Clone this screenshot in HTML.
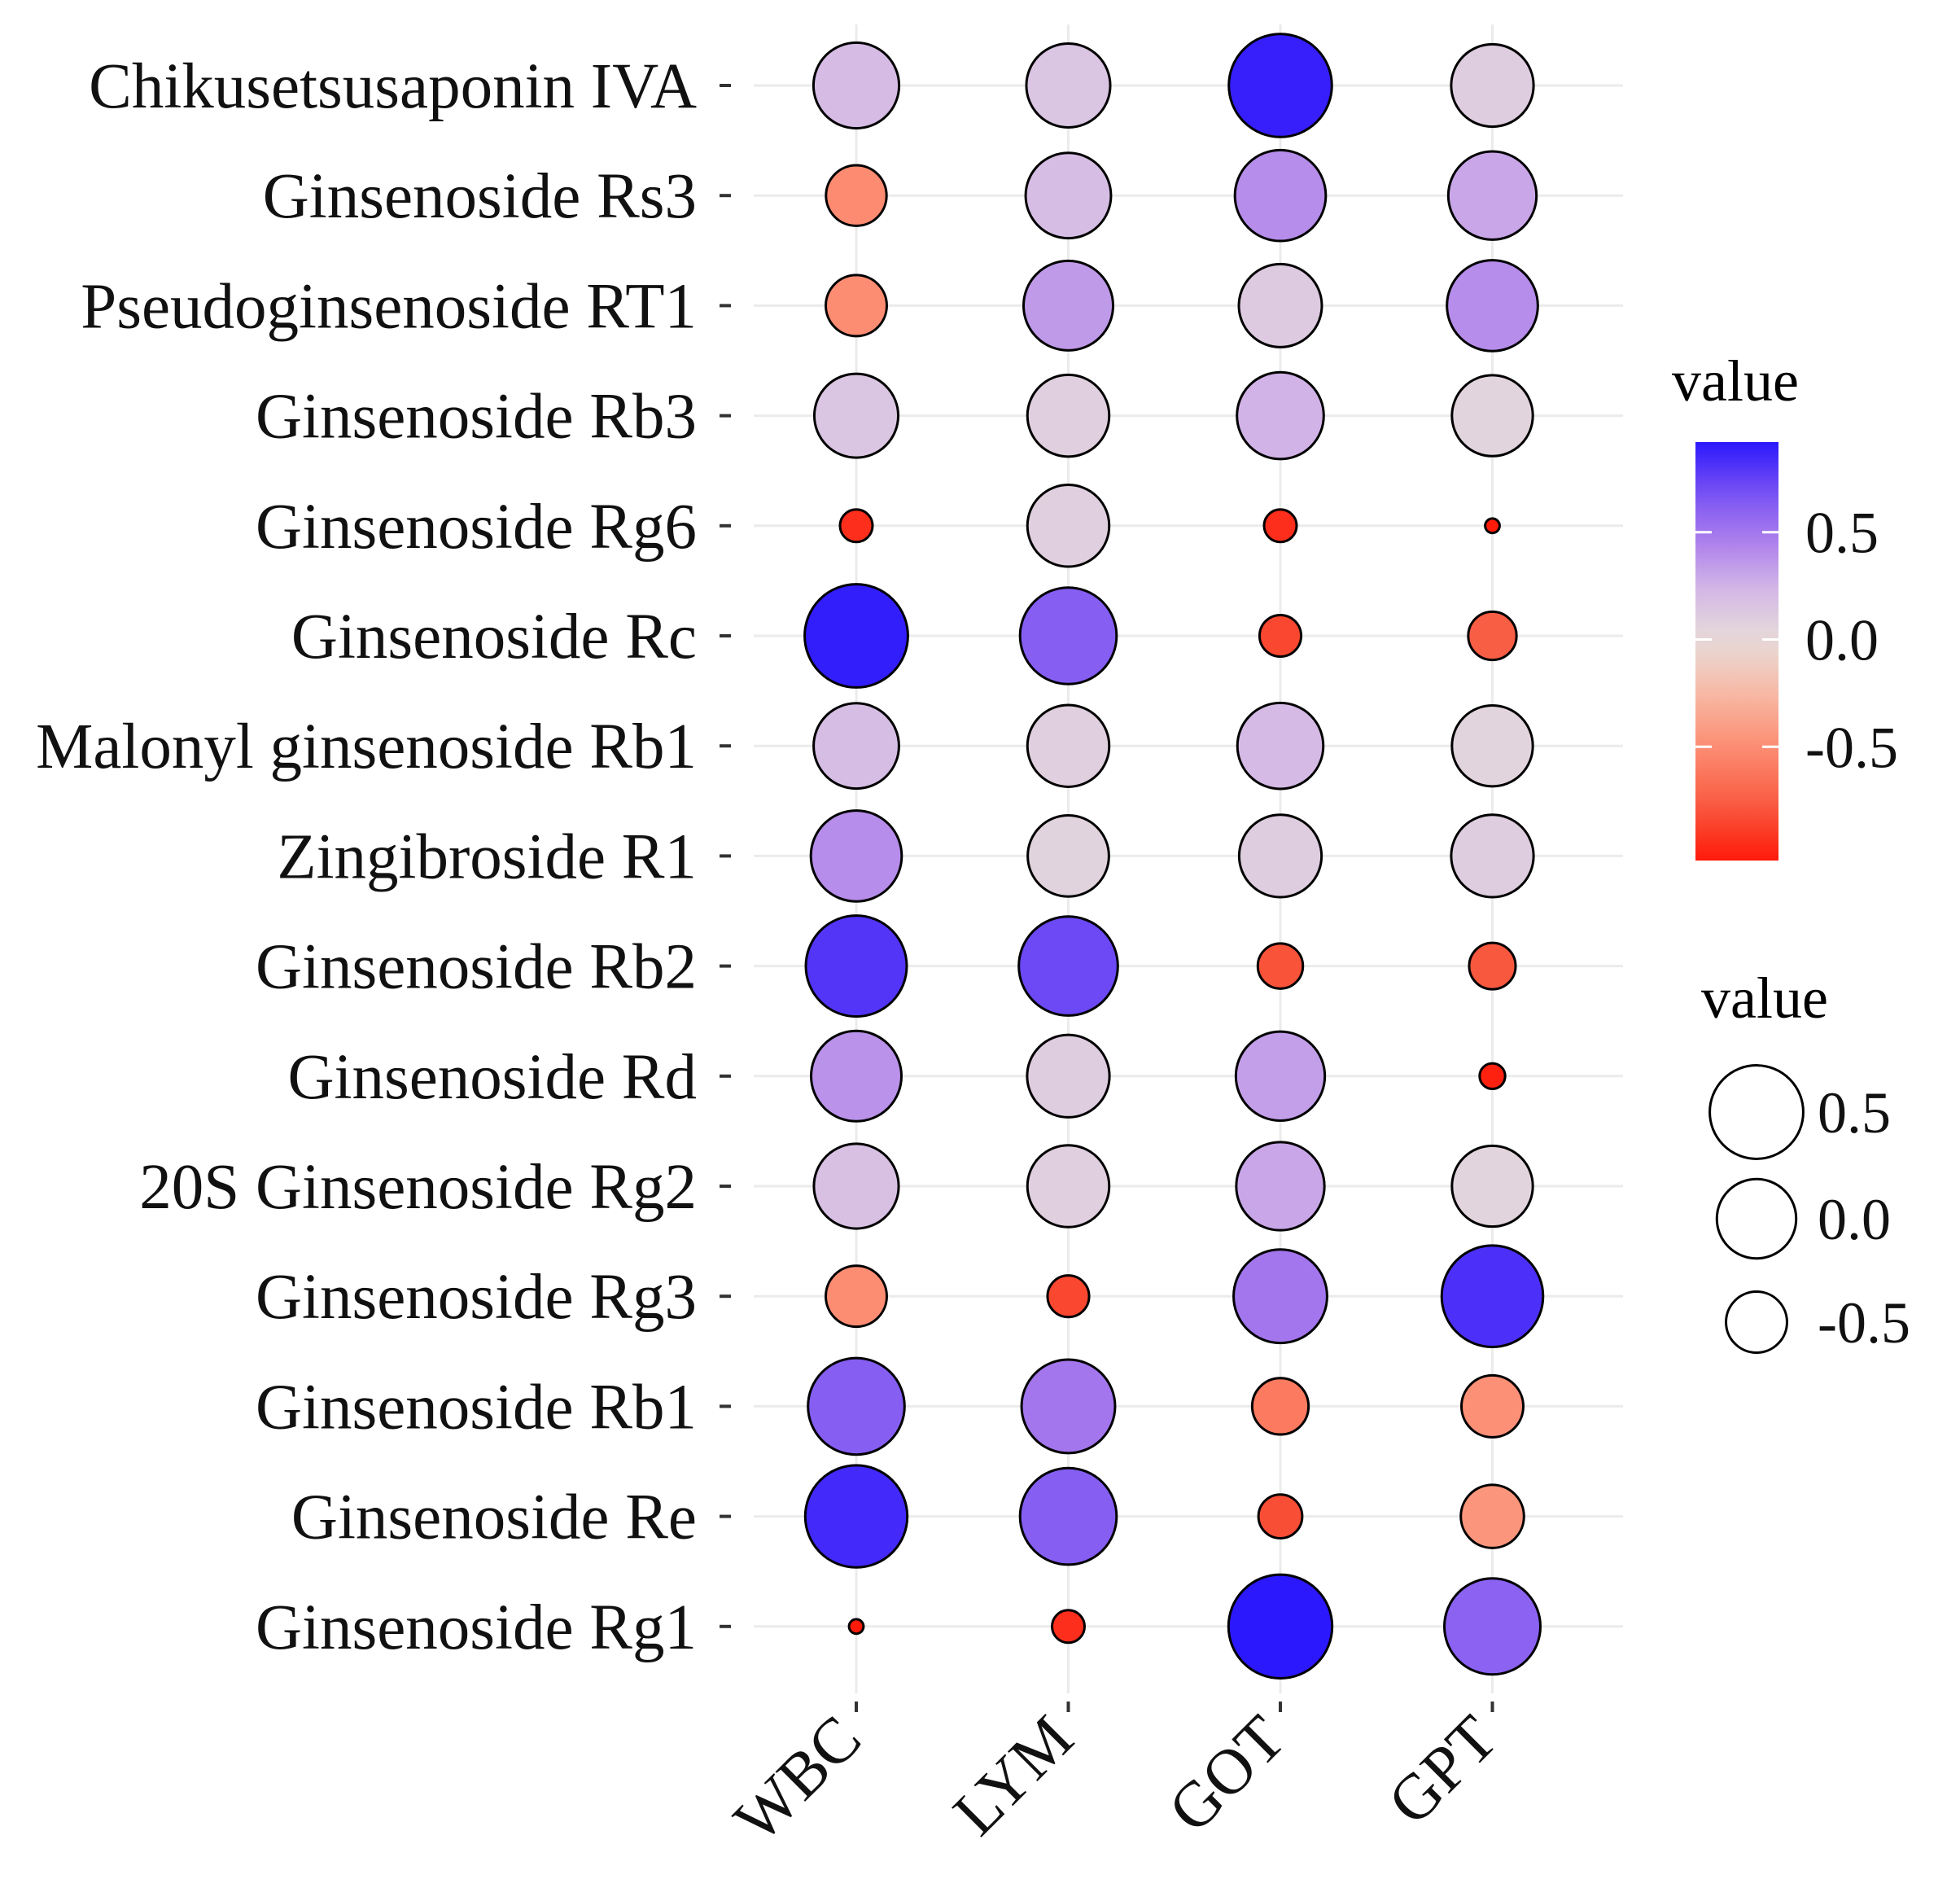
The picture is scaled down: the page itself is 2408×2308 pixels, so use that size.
<!DOCTYPE html>
<html><head><meta charset="utf-8"><style>
html,body{margin:0;padding:0;background:#fff}
svg{display:block;font-family:"Liberation Serif",serif}
</style></head><body>
<svg id="chart" width="2408" height="2308" viewBox="0 0 2408 2308" xmlns="http://www.w3.org/2000/svg">
<g id="grid"></g>
<g id="yaxis"></g>
<g id="xaxis"></g>
<g id="marks"></g>
<defs><linearGradient id="cbg" x1="0" y1="0" x2="0" y2="1"></linearGradient></defs>
<g id="legend">
<text x="2054" y="492" font-size="72">value</text>
<rect x="2083" y="543" width="102" height="514" fill="url(#cbg)"/>
<text x="2090" y="1250" font-size="72">value</text>
</g>
</svg>
<script>
const rows = ["Chikusetsusaponin IVA","Ginsenoside Rs3","Pseudoginsenoside RT1","Ginsenoside Rb3","Ginsenoside Rg6","Ginsenoside Rc","Malonyl ginsenoside Rb1","Zingibroside R1","Ginsenoside Rb2","Ginsenoside Rd","20S Ginsenoside Rg2","Ginsenoside Rg3","Ginsenoside Rb1","Ginsenoside Re","Ginsenoside Rg1"];
const cols = ["WBC","LYM","GOT","GPT"];
const valWBC = [0.21,-0.51,-0.5,0.15,-0.95,0.9,0.2,0.4,0.8,0.38,0.18,-0.5,0.62,0.85,-1.03];
const valLYM = [0.15,0.2,0.35,0.08,0.08,0.62,0.08,0.06,0.72,0.1,0.08,-0.85,0.5,0.62,-0.95];
const valGOT = [0.89,0.4,0.12,0.25,-0.95,-0.85,0.22,0.1,-0.8,0.33,0.3,0.5,-0.6,-0.82,0.92];
const valGPT = [0.1,0.3,0.4,0.05,-1.03,-0.75,0.05,0.1,-0.78,-1.0,0.05,0.82,-0.48,-0.45,0.6];
const legendTicks = [0.5,0.0,-0.5];
const tickLabels = ["0.5","0.0","-0.5"];

const NS="http://www.w3.org/2000/svg";
const vmin=-1.03, vmax=0.92;
const x0=1052, dx=260.5, y0=105, dy=135.2;
const xPos=i=>x0+i*dx, yPos=j=>y0+j*dy;
const rad=v=>10.4+54.8*Math.sqrt(Math.max(0,(v-vmin)/(vmax-vmin)));
const cbY=v=>543+(vmax-v)/(vmax-vmin)*514;
const blueStops=[[230,220,218],[212,184,230],[172,126,236],[118,80,244],[44,24,252]];
const redStops=[[230,220,218],[248,184,164],[252,138,112],[248,90,64],[255,26,10]];
function interp(st,t){t=Math.max(0,Math.min(1,t));const s=t*(st.length-1),i=Math.min(st.length-2,Math.floor(s)),f=s-i;
 return "rgb("+st[i].map((c,k)=>Math.round(c+(st[i+1][k]-c)*f)).join(",")+")";}
const col=v=>v>=0?interp(blueStops,v/vmax):interp(redStops,-v/(-vmin));
function mk(tag,attrs,parent,txt){const e=document.createElementNS(NS,tag);for(const k in attrs)e.setAttribute(k,attrs[k]);if(txt!==undefined)e.textContent=txt;parent.appendChild(e);return e;}
const grid=document.getElementById('grid'),ya=document.getElementById('yaxis'),xa=document.getElementById('xaxis'),marks=document.getElementById('marks'),leg=document.getElementById('legend');
rows.forEach((r,j)=>{const y=yPos(j);
 const l=mk('line',{x1:926,x2:1994,y1:y,y2:y,stroke:'#EBEBEB','stroke-width':3},grid);
 
 
 const t=mk('line',{x1:884,x2:898,y1:y,y2:y,stroke:'#333','stroke-width':4},ya);
 
 
 const tx=mk('text',{x:856,y:y+27,'font-size':79,'text-anchor':'end',fill:'#111'},ya,r);
 
 
});
cols.forEach((c,i)=>{const x=xPos(i);
 const l=mk('line',{x1:x,x2:x,y1:30,y2:2080,stroke:'#EBEBEB','stroke-width':3},grid);
 
 
 const t=mk('line',{x1:x,x2:x,y1:2090,y2:2103,stroke:'#333','stroke-width':4},xa);
 
 
 const tx=mk('text',{x:x+10,y:2140,'font-size':79,'text-anchor':'end',fill:'#111',transform:`rotate(-45 ${x+10} 2140)`},xa,c);
 
 
});
const series=[valWBC,valLYM,valGOT,valGPT];
series.forEach((vals,i)=>vals.forEach((v,j)=>{
 const c=mk('circle',{cx:xPos(i),cy:yPos(j),r:rad(v)-1.5,fill:col(v),stroke:'#000','stroke-width':3},marks);
 
 
}));
const g=document.getElementById('cbg');
for(let k=0;k<=20;k++){const v=vmax-(vmax-vmin)*k/20;mk('stop',{offset:(k*5)+'%','stop-color':col(v)},g);}
legendTicks.forEach((v,k)=>{const y=cbY(v);
 const a=mk('line',{x1:2083,x2:2103,y1:y,y2:y,stroke:'#fff','stroke-width':3},leg);
 
 
 const b=mk('line',{x1:2165,x2:2185,y1:y,y2:y,stroke:'#fff','stroke-width':3},leg);
 
 
 const t=mk('text',{x:2218,y:y+25,'font-size':72,fill:'#111'},leg,tickLabels[k]);
 
 
});
const sizeY=[1366,1497,1624];
legendTicks.forEach((v,k)=>{
 const c=mk('circle',{cx:2158,cy:sizeY[k],r:rad(v)-1.5,fill:'#fff',stroke:'#000','stroke-width':3},leg);
 
 
 const t=mk('text',{x:2233,y:sizeY[k]+25,'font-size':72,fill:'#111'},leg,tickLabels[k]);
 
 
});
</script>
</body></html>
